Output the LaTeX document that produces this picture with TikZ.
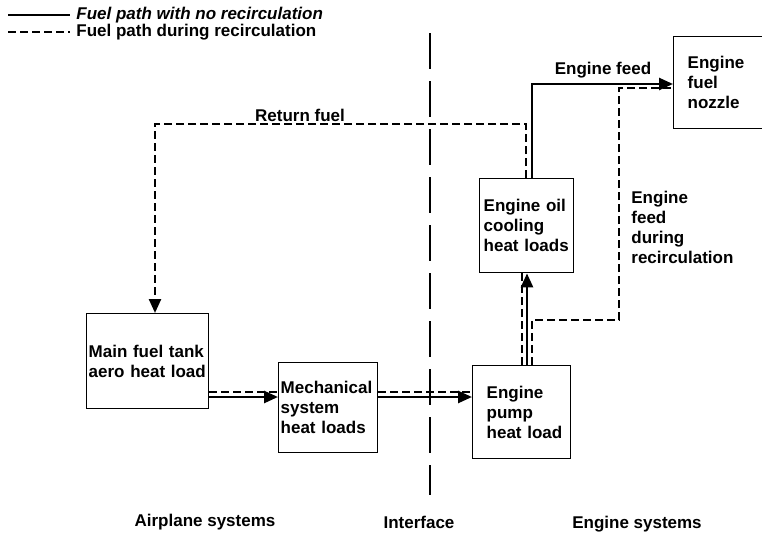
\documentclass[tikz,border=0pt]{standalone}
\usepackage{fontspec}
\setmainfont{Liberation Sans}
\usetikzlibrary{arrows.meta}

\tikzset{
  lbl/.style={font=\bfseries\fontsize{8.5}{10}\selectfont, inner sep=0pt},
  box/.style={draw, line width=0.7pt, anchor=north west, align=left, inner ysep=0pt,
    font=\bfseries\fontsize{8.5}{10}\selectfont},
  fuelline/.style={line width=1.3pt, -{Triangle[length=7pt,width=6pt]}},
  recirc/.style={line width=1.2pt, dash pattern=on 4pt off 2pt},
  interface/.style={line width=0.6pt, dash pattern=on 18pt off 6pt}
}

\begin{document}
\begin{tikzpicture}[x=0.5pt,y=-0.5pt]
\clip (0,0) rectangle (762,536);

\coordinate (lo) at (0,397);
\coordinate (ld) at (0,392);
\coordinate (vs) at (527,0);
\coordinate (vd) at (522,0);
\coordinate (rA) at (155,124);
\coordinate (rB) at (526,124);
\coordinate (fA) at (532,84);
\coordinate (cA) at (532,320);
\coordinate (cB) at (619,320);
\coordinate (cC) at (619,88);
\coordinate (itop) at (430,33);
\coordinate (ibot) at (430,495);
\coordinate (k1) at (8,15);
\coordinate (k2) at (70,15);
\coordinate (k3) at (8,32);
\coordinate (k4) at (70,32);

% boxes
\node[box, minimum width=61pt, minimum height=47.5pt, text width=59pt, inner xsep=1pt] (tank) at (86,313) {Main fuel tank\\aero heat load};
\node[box, minimum width=49.5pt, minimum height=45pt, text width=47.5pt, inner xsep=1pt] (mech) at (278,362) {Mechanical\\system\\heat loads};
\node[box, minimum width=49pt, minimum height=46.5pt, text width=35pt, inner xsep=7pt] (pump) at (472,365) {Engine\\pump\\heat~load};
\node[box, minimum width=47pt, minimum height=47pt, text width=43pt, inner xsep=2pt] (oil) at (479,178) {Engine oil\\cooling\\heat loads};
\node[box, minimum width=60pt, minimum height=46pt, text width=46pt, inner xsep=7pt] (nozzle) at (673,36) {Engine\\fuel\\nozzle};

% interface
\draw[interface] (itop) -- (ibot);

% fuel paths
\draw[fuelline] (tank.east |- lo) -- (mech.west |- lo);
\draw[recirc] (tank.east |- ld) -- (mech.west |- ld);
\draw[fuelline] (mech.east |- lo) -- (pump.west |- lo);
\draw[recirc] (mech.east |- ld) -- (pump.west |- ld);
\draw[fuelline] (pump.north -| vs) -- (oil.south -| vs);
\draw[recirc] (pump.north -| vd) -- (oil.south -| vd);
\draw[recirc] (pump.north -| cA) -- (cA) -- (cB) -- (cC) -- (nozzle.west |- cC);
\draw[fuelline] (oil.north -| fA) -- (fA) -- (nozzle.west |- fA);
\draw[recirc, -{Triangle[length=7pt,width=6pt]}] (oil.north -| rB) -- (rB) -- (rA) -- (tank.north -| rA);

% labels
\node[lbl] (ret) at (300,115) {Return fuel};
\node[lbl] (feed) at (603,70) {Engine feed};
\node[lbl, anchor=west, align=left] (feedrc) at (631,227) {Engine\\feed\\during\\recirculation};
\node[lbl] (air) at (205,522) {Airplane systems};
\node[lbl] (intf) at (419,522) {Interface};
\node[lbl] (eng) at (637,524) {Engine systems};

% legend
\draw[line width=1pt] (k1) -- (k2);
\draw[recirc] (k3) -- (k4);
\node[lbl, anchor=west, font=\bfseries\itshape\fontsize{8.5}{10}\selectfont] (key1) at (76,15) {Fuel path with no recirculation};
\node[lbl, anchor=west] (key2) at (76,32) {Fuel path during recirculation};

\end{tikzpicture}
\end{document}
